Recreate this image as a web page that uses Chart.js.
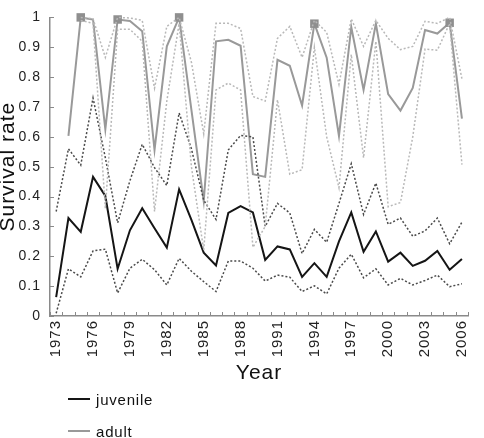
<!DOCTYPE html>
<html>
<head>
<meta charset="utf-8">
<script src="https://cdn.jsdelivr.net/npm/chart.js@4.4.1/dist/chart.umd.min.js"></script>
<style>
  html, body { margin: 0; padding: 0; background: #fff; }
  #wrap { position: relative; width: 484px; height: 438px; }
  .legend-row {
    position: absolute; left: 68px; height: 20px;
    display: flex; align-items: center;
    font: 15px "Liberation Sans", Arial, sans-serif; letter-spacing: 0.8px; color: #111;
  }
  .legend-row span.swatch { display: inline-block; width: 22px; height: 2px; margin-right: 6px; }
</style>
</head>
<body>
<div id="wrap">
  <canvas id="survivalChart" width="484" height="438"></canvas>
</div>
<script>
// survival estimates, one value per year (null = no estimate)
const years = [1973, 1974, 1975, 1976, 1977, 1978, 1979, 1980, 1981, 1982, 1983, 1984,
  1985, 1986, 1987, 1988, 1989, 1990, 1991, 1992, 1993, 1994, 1995, 1996, 1997, 1998,
  1999, 2000, 2001, 2002, 2003, 2004, 2005, 2006];

const juvenile = [0.063, 0.328, 0.282, 0.466, 0.402, 0.158, 0.287, 0.361, 0.294, 0.229,
  0.424, 0.322, 0.212, 0.169, 0.345, 0.368, 0.347, 0.188, 0.233, 0.223, 0.131, 0.177,
  0.131, 0.250, 0.347, 0.215, 0.283, 0.182, 0.212, 0.168, 0.185, 0.218, 0.155, 0.191];
const juvenileLower = [0.009, 0.158, 0.131, 0.218, 0.224, 0.077, 0.160, 0.190, 0.155, 0.104,
  0.193, 0.150, 0.115, 0.082, 0.184, 0.184, 0.160, 0.117, 0.137, 0.130, 0.082, 0.101,
  0.074, 0.160, 0.207, 0.128, 0.158, 0.104, 0.126, 0.104, 0.119, 0.137, 0.098, 0.108];
const juvenileUpper = [0.35, 0.56, 0.505, 0.73, 0.53, 0.312, 0.453, 0.575, 0.497, 0.437,
  0.68, 0.56, 0.388, 0.323, 0.556, 0.605, 0.60, 0.30, 0.377, 0.345, 0.209, 0.29,
  0.247, 0.377, 0.51, 0.34, 0.445, 0.307, 0.328, 0.267, 0.285, 0.328, 0.242, 0.314];

const adult = [null, 0.603, 1.0, 0.993, 0.625, 0.993, 0.988, 0.954, 0.556, 0.903,
  1.0, 0.69, 0.385, 0.92, 0.925, 0.905, 0.475, 0.466, 0.858, 0.838, 0.705, 0.979,
  0.865, 0.603, 0.968, 0.757, 0.979, 0.743, 0.688, 0.764, 0.958, 0.946, 0.982, 0.661];
const adultUpper = [null, null, 1.0, 0.995, 0.866, 1.0, 0.998, 0.99, 0.763, 0.97,
  1.0, 0.85, 0.61, 0.98, 0.98, 0.963, 0.735, 0.72, 0.93, 0.97, 0.866, 0.99,
  0.95, 0.776, 0.995, 0.903, 0.99, 0.93, 0.892, 0.903, 0.987, 0.98, 1.0, 0.794];
const adultLower = [null, null, 0.99, 0.98, 0.36, 0.96, 0.96, 0.92, 0.35, 0.72,
  0.98, 0.5, 0.22, 0.757, 0.78, 0.757, 0.23, 0.30, 0.724, 0.475, 0.49, 0.9,
  0.6, 0.43, 0.876, 0.53, 0.92, 0.366, 0.38, 0.6, 0.894, 0.89, 0.98, 0.507];

// years where the adult estimate carries a square marker
const adultMarkedYears = [1975, 1978, 1983, 1994, 2005];

const yTicks = [0, 0.1, 0.2, 0.3, 0.4, 0.5, 0.6, 0.7, 0.8, 0.9, 1];

const FONT = '"Liberation Sans", Arial, sans-serif';
const AXIS_COLOR = '#8a8a8a';

// small ticks pointing into the plot, like the original figure
const innerTicks = {
  id: 'innerTicks',
  beforeDatasetsDraw(chart) {
    const { ctx, scales: { x, y } } = chart;
    ctx.save();
    ctx.strokeStyle = AXIS_COLOR;
    ctx.lineWidth = 1;
    const n = years.length;
    for (let i = 0; i <= n; i++) {
      let px;
      if (i === 0) px = x.left;
      else if (i === n) px = x.right;
      else px = (x.getPixelForValue(i - 1) + x.getPixelForValue(i)) / 2;
      px = Math.round(px) + 0.5;
      ctx.beginPath();
      ctx.moveTo(px, y.bottom);
      ctx.lineTo(px, y.bottom - 4);
      ctx.stroke();
    }
    yTicks.forEach(v => {
      const py = Math.round(y.getPixelForValue(v)) + 0.5;
      ctx.beginPath();
      ctx.moveTo(x.left, py);
      ctx.lineTo(x.left + 4, py);
      ctx.stroke();
    });
    ctx.restore();
  }
};

const spacedText = {
  id: 'spacedText',
  beforeDraw(chart) { chart.ctx.letterSpacing = '1px'; }
};

function dotted(data, color) {
  return {
    data: data,
    borderColor: color,
    borderWidth: 1.5,
    borderDash: [2, 2],
    pointRadius: 0,
    fill: false,
    clip: false,
    spanGaps: false
  };
}

const ctx = document.getElementById('survivalChart').getContext('2d');
const chart = new Chart(ctx, {
  type: 'line',
  data: {
    labels: years,
    datasets: [
      Object.assign(dotted(adultLower, '#b8b8b8'), { label: 'adult lower' }),
      Object.assign(dotted(adultUpper, '#b8b8b8'), { label: 'adult upper' }),
      Object.assign(dotted(juvenileLower, '#4a4a4a'), { label: 'juvenile lower' }),
      Object.assign(dotted(juvenileUpper, '#4a4a4a'), { label: 'juvenile upper' }),
      {
        label: 'adult',
        data: adult,
        borderColor: '#999999',
        backgroundColor: '#8f8f8f',
        borderWidth: 2,
        pointStyle: 'rect',
        pointRadius: years.map(yr => adultMarkedYears.includes(yr) ? 6 : 0),
        pointBorderWidth: 0,
        clip: false
      },
      {
        label: 'juvenile',
        data: juvenile,
        borderColor: '#151515',
        borderWidth: 2,
        pointRadius: 0,
        clip: false
      }
    ]
  },
  options: {
    responsive: false,
    animation: false,
    layout: { padding: { top: 8, right: 4, bottom: 52, left: 0 } },
    plugins: {
      legend: { display: false },
      tooltip: { enabled: false }
    },
    scales: {
      x: {
        type: 'category',
        offset: true,
        grid: { display: true, drawOnChartArea: false, drawTicks: false, offset: true },
        border: { display: true, color: AXIS_COLOR, width: 1.5 },
        ticks: {
          autoSkip: false,
          maxRotation: 90,
          minRotation: 90,
          padding: 4,
          color: '#222',
          font: { family: FONT, size: 15 },
          callback: function (value, index) {
            const yr = years[index];
            return (yr - 1973) % 3 === 0 ? String(yr) : '';
          }
        },
        title: {
          display: true,
          text: 'Year',
          color: '#111',
          padding: { top: 0, bottom: 0 },
          font: { family: FONT, size: 21 }
        },
        afterFit: s => { s.height = 70; }
      },
      y: {
        min: 0,
        max: 1,
        grid: { display: true, drawOnChartArea: false, drawTicks: false },
        border: { display: true, color: AXIS_COLOR, width: 1.5 },
        ticks: {
          stepSize: 0.1,
          padding: 9,
          color: '#222',
          font: { family: FONT, size: 14 },
          callback: value => String(Number(value.toFixed(1)))
        },
        title: {
          display: true,
          text: 'Survival rate',
          color: '#111',
          padding: { top: 0, bottom: 0 },
          font: { family: FONT, size: 21, lineHeight: 0.8 }
        },
        afterFit: s => { s.width = 50; }
      }
    }
  },
  plugins: [spacedText, innerTicks]
});

// legend: two stacked rows under the axis title
const wrap = document.getElementById('wrap');
[['juvenile', 389], ['adult', 421]].forEach(([name, top]) => {
  const ds = chart.data.datasets.find(d => d.label === name);
  const row = document.createElement('div');
  row.className = 'legend-row';
  row.style.top = top + 'px';
  row.innerHTML = '<span class="swatch" style="background:' + ds.borderColor + '"></span>' + name;
  wrap.appendChild(row);
});
</script>
</body>
</html>
